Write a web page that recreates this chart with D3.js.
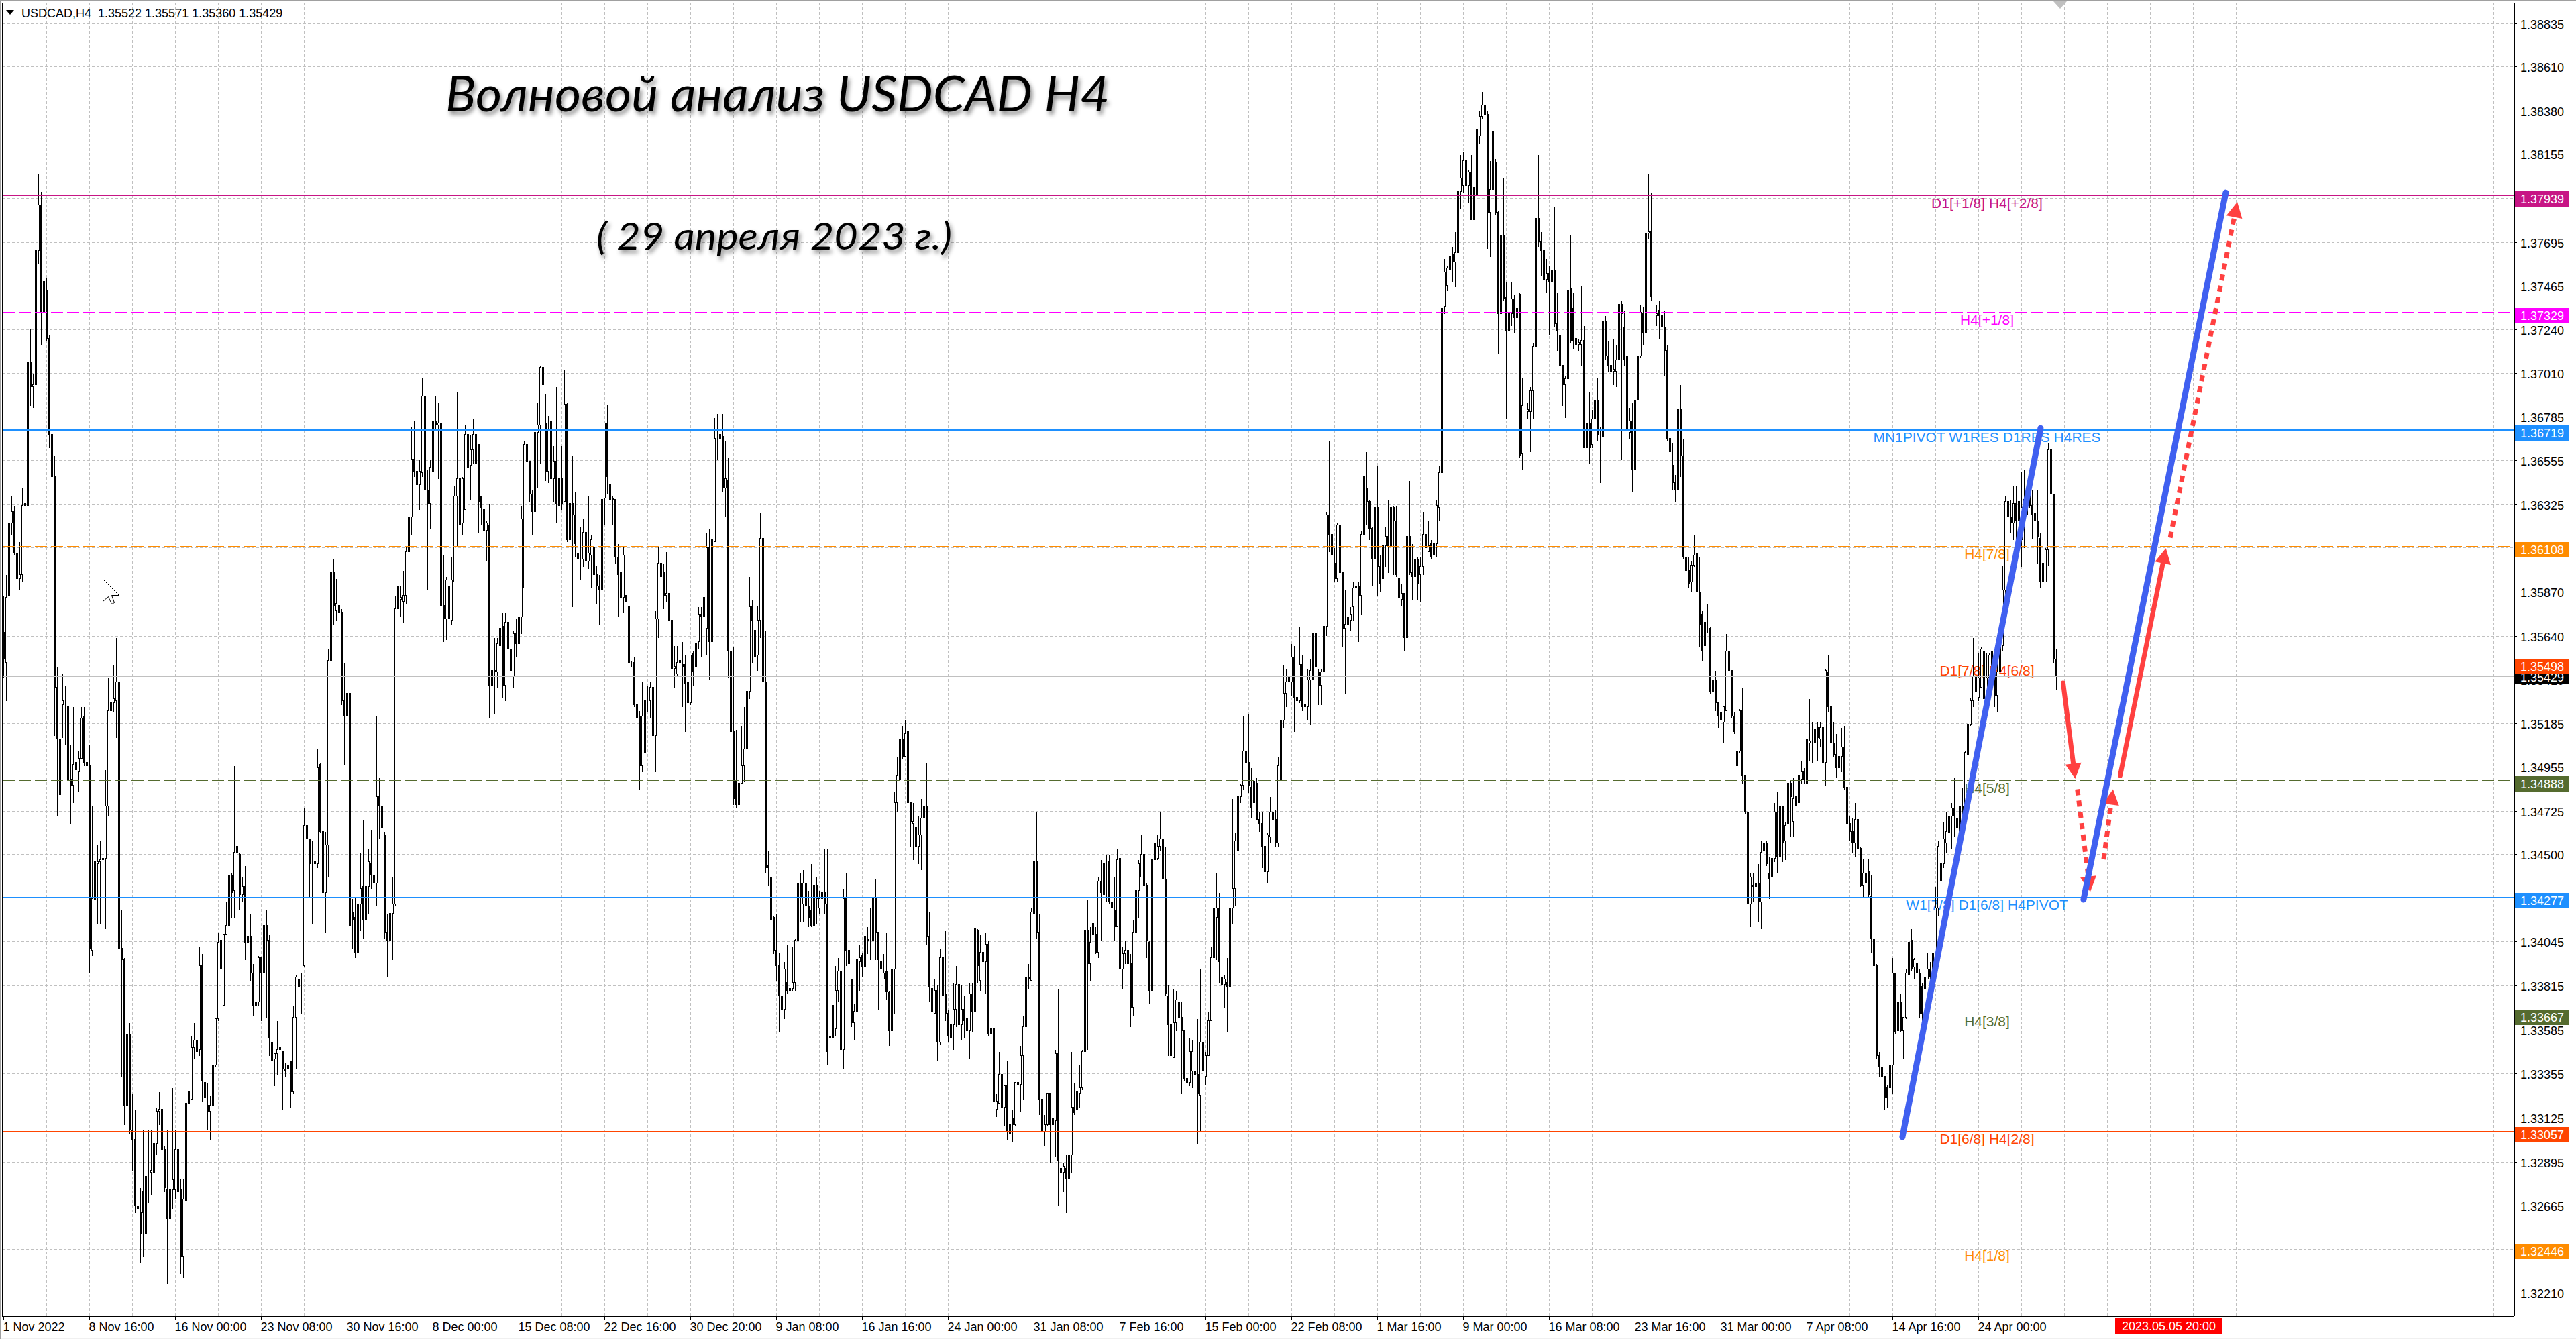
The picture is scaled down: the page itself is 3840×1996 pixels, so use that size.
<!DOCTYPE html>
<html><head><meta charset="utf-8">
<script src="https://cdnjs.cloudflare.com/ajax/libs/d3/7.8.5/d3.min.js"></script>
<style>
html,body{margin:0;padding:0;background:#fff;overflow:hidden}
svg{display:block}
text{font-family:"Liberation Sans",Arial,sans-serif}
</style></head><body>
<svg id="c" width="3840" height="1996"></svg>
<script>
// USDCAD H4 candles; prices in units of 0.0001
const opens=[
13566,13550,13585,13623,13629,13607,13594,13596,13632,13632,
13707,13694,13695,13765,13789,13733,13744,13719,13669,13647,
13537,13510,13528,13527,13527,13489,13486,13498,13493,13500,
13522,13498,13496,13400,13426,13445,13446,13447,13448,13475,
13525,13529,13530,13540,13401,13395,13319,13356,13306,13301,
13266,13263,13274,13252,13283,13284,13284,13299,13316,13317,
13296,13275,13275,13275,13275,13296,13275,13240,13269,13320,
13322,13349,13353,13348,13392,13331,13319,13316,13319,13340,
13364,13405,13371,13408,13413,13439,13431,13451,13450,13429,
13433,13404,13407,13388,13371,13373,13396,13388,13413,13405,
13352,13343,13346,13348,13347,13338,13338,13342,13326,13365,
13385,13381,13392,13465,13458,13445,13445,13445,13497,13462,
13430,13455,13551,13597,13577,13580,13576,13530,13522,13534,
13420,13417,13399,13424,13433,13416,13433,13445,13439,13435,
13480,13475,13460,13409,13405,13419,13424,13578,13583,13582,
13585,13608,13626,13656,
13650,13643,13649,13689,13640,13633,
13650,13676,13674,13675,13580,13573,13590,13572,13592,13637,
13646,13623,13630,13669,13653,13661,13669,13664,13637,13630,
13619,13622,13538,13546,13545,13559,13569,13538,13571,13557,
13543,13565,13560,13574,13589,13664,13655,13638,13629,13670,
13674,13704,13675,13650,13676,13646,13655,13632,13646,13634,
13685,13614,13633,13627,13607,13604,13604,13618,13603,13606,
13610,13596,13590,13588,13636,13675,13643,13636,13635,13605,
13597,13584,13585,13579,13550,13550,13528,13522,13496,13503,
13531,13530,13537,13512,13573,13602,13597,13585,13586,13572,
13547,13544,13550,13549,13549,13540,13529,13555,13548,13561,
13575,13574,13568,13610,13561,13613,13667,13667,13668,13641,
13645,13556,13514,13488,13476,13487,13496,13505,13535,13579,
13567,13554,13572,13615,13540,13444,13438,13417,13400,13392,
13376,13369,13383,13379,13380,13383,13405,13435,13424,13435,
13423,13421,13413,13434,13422,13427,13430,13424,13354,
13354,
13359,13379,13389,13348,13427,13400,13385,13362,13368,13394,
13397,13391,13406,13406,13405,13427,13409,13394,13385,13389,
13378,13358,13390,13477,13489,13510,13501,13514,13477,13466,
13464,13454,13460,13469,13475,13407,13380,13367,13379,13352,
13396,13377,13367,13354,13361,13369,13382,13361,13369,13364,
13358,13377,13368,13410,13384,13399,13394,13403,13356,13359,
13317,13320,13335,13318,13329,13304,13312,13309,13330,13330,
13345,13360,13386,13384,13419,13446,13409,13322,13305,13309,
13325,13309,13311,13346,13286,13284,13286,13281,13293,13318,
13317,13325,13328,13347,13410,13393,13414,13408,13399,13436,
13429,13446,13446,13425,13421,13412,13448,13390,13398,13400,
13393,13370,13409,13431,13438,13450,13434,13404,13379,13447,
13448,13454,13458,13437,13376,13361,13344,13362,13373,13365,
13358,13333,13331,13337,13337,13335,13324,13352,13334,13345,
13363,13396,13417,13422,13386,13382,13383,13381,13422,13432,
13452,13480,13486,13504,
13498,13485,13477,13487,13468,13466,
13454,13441,13459,13472,13468,13456,13489,13520,13534,13540,
13540,13553,13532,13530,13549,13527,13527,13541,13541,13565,
13545,13538,13545,13569,13627,13617,13602,13594,13622,13597,
13568,13570,13572,13579,13589,13590,13585,13617,13641,13634,
13620,13604,13631,13600,13594,13611,13616,13611,13631,13624,
13594,13583,13586,13563,13616,13597,13595,13604,13596,13600,
13617,13608,13612,13606,13612,13631,13649,13736,13747,13755,
13763,13759,13764,13796,13799,13812,13799,13806,13781,13794,
13825,13835,13841,13836,13785,13797,13811,13785,13732,13773,
13741,13723,13732,13740,13730,13742,13659,13684,13681,13681,
13692,13715,13782,13770,13765,13750,13753,13749,13755,13727,
13721,13705,13695,13698,13745,13735,13719,13716,13716,13718,
13662,13675,13664,13677,13687,13669,13668,13728,13710,13705,
13702,13702,13708,13737,13725,13710,13670,13676,13651,13687,
13710,13732,13722,13774,13775,13740,13731,13734,13731,
13725,
13713,13667,13653,13644,13640,13682,13658,13605,13598,13592,
13601,13607,13587,13575,13559,13571,13568,13535,13541,13529,
13524,13519,13525,13556,13546,13522,13496,13504,13525,13491,
13472,13424,13434,13433,13435,13425,13456,13456,13440,13438,
13448,13472,13449,13475,13457,13466,13487,13467,13480,13477,
13489,13493,13487,13508,13509,13508,13516,13510,13516,13498,
13545,13527,13508,13502,13495,13501,13506,13485,13466,13462,
13456,13468,13453,13434,13435,13441,13428,13406,13392,13345,
13339,13334,13328,13328,13340,13388,13358,13373,13358,13365,
13387,13405,13391,13393,13388,13381,13380,13385,13390,13388,
13398,13422,13436,13445,13456,13461,13470,13474,13464,13475,
13475,13475,13502,13518,13530,13543,13532,13537,13556,13532,
13542,13537,13546,13533,13545,13559,13588,13634,13626,13623,
13633,13634,13614,13635,13634,13640,13632,13628,13624,13615,
13602,13592,13609,13661,13638,13552];
const highs=[
13585,13596,13669,13637,13632,13617,13613,13641,13650,13714,
13724,13701,13775,13805,13796,13751,13751,13721,13675,13658,
13548,13519,13544,13538,13553,13507,13527,13503,13504,13527,
13527,13507,13507,13475,13449,13455,13457,13468,13494,13542,
13534,13549,13563,13571,13421,13396,13362,13362,13325,13317,
13276,13276,13306,13282,13306,13306,13310,13318,13326,13320,
13298,13306,13337,13328,13306,13307,13281,13281,13348,13358,
13355,13362,13360,13402,13398,13331,13331,13324,13348,13364,
13409,13409,13408,13425,13443,13440,13496,13457,13451,13438,
13444,13412,13419,13393,13378,13397,13396,13440,13421,13408,
13356,13346,13363,13360,13347,13341,13350,13342,13371,13387,
13399,13388,13474,13470,13458,13457,13468,13505,13498,13468,
13462,13557,13647,13604,13594,13589,13578,13550,13579,13568,
13427,13428,13432,13451,13468,13471,13453,13463,13451,13522,
13490,13496,13462,13419,13448,13438,13585,13606,13590,13598,
13611,13628,13673,13676,
13659,13656,13699,13699,13651,13656,
13689,13689,13686,13675,13606,13595,13606,13605,13642,13691,
13647,13647,13674,13674,13669,13677,13683,13664,13637,13643,
13624,13633,13565,13563,13563,13574,13576,13576,13584,13612,
13567,13573,13589,13632,13666,13674,13655,13640,13671,13686,
13705,13705,13690,13679,13678,13663,13694,13669,13663,13703,
13686,13654,13658,13639,13614,13621,13625,13637,13637,13617,
13620,13601,13596,13639,13675,13685,13658,13637,13635,13612,
13646,13611,13585,13579,13551,13553,13528,13525,13540,13540,
13538,13540,13540,13577,13611,13608,13602,13608,13603,13572,
13559,13559,13559,13561,13554,13581,13554,13556,13566,13579,
13579,13584,13618,13620,13638,13678,13680,13685,13680,13666,
13657,13558,13558,13515,13494,13517,13527,13538,13595,13583,
13570,13580,13628,13664,13567,13452,13444,13418,13419,13399,
13416,13394,13403,13410,13402,13406,13446,13440,13442,13441,
13431,13445,13441,13438,13431,13432,13453,13453,13443,
13387,
13392,13396,13391,13432,13440,13408,13385,13372,13418,13403,
13399,13414,13412,13422,13430,13437,13409,13402,13398,13409,
13379,13395,13483,13501,13518,13517,13520,13519,13477,13477,
13468,13470,13479,13485,13498,13420,13380,13385,13382,13401,
13418,13410,13369,13365,13383,13392,13414,13382,13376,13364,
13383,13383,13428,13411,13408,13408,13409,13405,13374,13362,
13325,13347,13342,13329,13342,13316,13317,13331,13353,13350,
13366,13389,13393,13422,13457,13472,13419,13324,13314,13325,
13325,13325,13348,13380,13293,13289,13293,13294,13347,13331,
13331,13340,13348,13422,13426,13412,13422,13412,13438,13447,
13475,13450,13450,13427,13438,13453,13469,13402,13405,13408,
13398,13416,13444,13447,13460,13450,13435,13405,13451,13463,
13460,13472,13459,13454,13382,13366,13380,13379,13374,13373,
13358,13341,13354,13353,13347,13364,13390,13364,13347,13368,
13402,13434,13440,13430,13408,13387,13396,13424,13479,13461,
13481,13487,13522,13537,
13523,13495,13495,13490,13472,13472,
13456,13461,13480,13477,13473,13501,13531,13549,13547,13547,
13560,13559,13560,13569,13554,13533,13547,13552,13581,13569,
13547,13547,13578,13629,13666,13630,13610,13623,13624,13597,
13588,13583,13579,13592,13606,13592,13619,13649,13660,13635,
13621,13632,13653,13606,13626,13621,13635,13642,13632,13632,
13596,13591,13586,13619,13645,13612,13612,13605,13605,13629,
13624,13624,13614,13614,13635,13653,13743,13761,13757,13773,
13767,13775,13797,13815,13817,13815,13807,13815,13798,13838,
13838,13848,13862,13838,13812,13847,13813,13786,13773,13803,
13749,13742,13749,13742,13750,13743,13699,13693,13686,13694,
13717,13786,13815,13775,13770,13761,13757,13769,13788,13743,
13722,13705,13700,13761,13773,13743,13725,13719,13747,13726,
13676,13691,13682,13691,13699,13673,13737,13731,13718,13709,
13719,13716,13744,13739,13734,13713,13683,13686,13691,13733,
13737,13736,13777,13805,13795,13745,13737,13739,13745,
13734,
13716,13669,13665,13648,13682,13695,13667,13618,13605,13603,
13617,13608,13605,13577,13572,13581,13569,13546,13546,13529,
13524,13527,13565,13559,13546,13524,13514,13526,13537,13491,
13475,13440,13440,13445,13445,13457,13468,13457,13449,13449,
13477,13483,13482,13475,13467,13490,13489,13490,13506,13493,
13499,13495,13519,13531,13519,13520,13519,13519,13524,13547,
13554,13528,13519,13513,13505,13516,13517,13486,13470,13469,
13477,13489,13454,13448,13448,13448,13439,13407,13393,13347,
13339,13334,13330,13350,13396,13388,13377,13377,13365,13390,
13420,13411,13396,13397,13390,13383,13390,13399,13394,13405,
13433,13457,13457,13467,13472,13475,13477,13490,13484,13484,
13485,13504,13527,13532,13563,13553,13555,13558,13567,13555,
13555,13562,13556,13556,13589,13601,13637,13648,13635,13642,
13642,13642,13650,13651,13640,13642,13640,13640,13640,13618,
13611,13610,13665,13668,13638,13557];
const lows=[
13542,13530,13585,13617,13606,13588,13588,13592,13623,13549,
13684,13683,13694,13758,13716,13721,13718,13662,13629,13512,
13470,13471,13511,13507,13466,13466,13477,13484,13483,13500,
13496,13481,13388,13397,13423,13414,13414,13425,13411,13470,
13515,13524,13511,13369,13334,13309,13315,13304,13285,13263,
13246,13237,13240,13252,13268,13272,13263,13293,13309,13293,
13274,13226,13253,13265,13270,13272,13231,13229,13268,13317,
13322,13343,13306,13345,13321,13313,13306,13301,13311,13339,
13363,13389,13371,13408,13408,13417,13417,13438,13421,13425,
13395,13386,13384,13366,13358,13371,13363,13387,13365,13345,
13338,13329,13335,13328,13317,13334,13329,13318,13325,13338,
13363,13367,13391,13435,13428,13414,13423,13443,13461,13425,
13409,13438,13548,13570,13572,13563,13528,13497,13489,13412,
13401,13396,13396,13410,13406,13405,13419,13432,13419,13423,
13458,13455,13406,13386,13404,13395,13423,13572,13574,13571,
13581,13603,13617,13647,
13640,13630,13647,13633,13588,13620,
13645,13672,13646,13572,13561,13562,13569,13570,13592,13611,
13602,13617,13630,13650,13635,13654,13632,13618,13622,13613,
13603,13521,13523,13523,13537,13559,13532,13530,13548,13518,
13537,13553,13556,13565,13589,13647,13634,13617,13617,13641,
13654,13681,13645,13644,13629,13634,13623,13629,13630,13634,
13613,13604,13579,13605,13589,13593,13600,13600,13599,13589,
13596,13581,13570,13588,13622,13638,13635,13622,13602,13574,
13563,13576,13582,13548,13548,13527,13506,13484,13493,13503,
13524,13521,13485,13493,13563,13586,13578,13582,13570,13539,
13537,13543,13543,13527,13514,13518,13528,13538,13537,13557,
13553,13564,13554,13541,13523,13613,13656,13657,13639,13626,
13542,13514,13476,13474,13470,13487,13488,13488,13531,13550,
13548,13546,13563,13539,13440,13434,13415,13398,13384,13357,
13359,13364,13377,13379,13379,13379,13382,13415,13415,13411,
13412,13412,13405,13414,13419,13421,13419,13340,13346,
13346,
13355,13373,13322,13338,13392,13386,13360,13353,13368,13379,
13386,13390,13398,13395,13405,13395,13369,13367,13385,13374,
13350,13356,13367,13472,13483,13500,13501,13476,13454,13447,
13448,13445,13442,13460,13403,13373,13356,13367,13342,13351,
13367,13363,13352,13347,13348,13360,13354,13353,13354,13348,
13343,13357,13341,13383,13379,13385,13377,13355,13303,13319,
13313,13320,13316,13308,13301,13301,13300,13308,13324,13316,
13322,13357,13380,13384,13408,13406,13314,13299,13298,13308,
13289,13297,13292,13267,13263,13274,13263,13271,13284,13314,
13310,13318,13327,13347,13348,13384,13401,13398,13396,13405,
13425,13425,13424,13401,13405,13412,13382,13380,13393,13388,
13360,13366,13409,13417,13438,13432,13396,13372,13372,13447,
13447,13452,13413,13376,13345,13338,13344,13358,13363,13325,
13332,13325,13329,13328,13335,13299,13305,13335,13330,13345,
13363,13390,13395,13383,13379,13370,13357,13380,13414,13423,
13452,13477,13484,13489,
13482,13469,13472,13468,13462,13443,
13433,13435,13456,13460,13454,13454,13488,13516,13527,13531,
13533,13514,13523,13529,13525,13518,13520,13518,13516,13540,
13528,13528,13542,13564,13608,13599,13592,13592,13587,13558,
13534,13564,13567,13572,13578,13561,13575,13617,13622,13614,
13590,13585,13585,13587,13583,13600,13597,13600,13596,13595,
13577,13580,13556,13561,13596,13583,13588,13583,13582,13596,
13600,13608,13604,13600,13605,13624,13645,13732,13744,13752,
13749,13746,13745,13787,13795,13794,13790,13781,13753,13790,
13821,13834,13833,13766,13762,13797,13784,13711,13715,13739,
13677,13714,13726,13722,13702,13657,13651,13668,13677,13660,
13677,13709,13767,13752,13740,13743,13721,13739,13725,13713,
13703,13684,13678,13694,13717,13714,13686,13713,13705,13662,
13651,13654,13662,13671,13666,13644,13667,13708,13702,13698,
13695,13694,13701,13656,13705,13670,13667,13639,13631,13685,
13709,13716,13721,13771,13739,13739,13726,13719,13718,
13700,
13666,13650,13640,13634,13632,13647,13604,13591,13589,13587,
13600,13572,13558,13551,13558,13566,13534,13529,13525,13516,
13518,13508,13525,13530,13521,13513,13488,13503,13487,13471,
13423,13412,13425,13427,13415,13411,13406,13444,13427,13426,
13446,13440,13428,13446,13447,13465,13459,13459,13464,13467,
13487,13487,13487,13499,13498,13499,13499,13506,13489,13486,
13524,13503,13501,13490,13482,13493,13484,13462,13457,13451,
13449,13448,13433,13428,13433,13428,13399,13386,13343,13334,
13333,13317,13318,13303,13325,13356,13357,13357,13343,13364,
13385,13389,13385,13380,13365,13359,13367,13385,13385,13386,
13396,13418,13427,13443,13451,13456,13453,13459,13463,13453,
13459,13474,13501,13517,13527,13533,13530,13537,13530,13530,
13531,13533,13527,13524,13543,13556,13585,13625,13618,13614,
13614,13618,13600,13610,13619,13631,13615,13621,13602,13589,
13589,13592,13601,13633,13550,13536];
const closes=[
13552,13584,13623,13629,13607,13594,13596,13632,13633,13707,
13694,13695,13765,13789,13733,13749,13719,13669,13647,13537,
13510,13481,13530,13527,13489,13486,13497,13494,13500,13521,
13498,13496,13401,13427,13446,13446,13447,13448,13475,13525,
13529,13531,13540,13401,13395,13319,13356,13306,13301,13267,
13265,13252,13263,13282,13283,13285,13299,13316,13317,13296,
13276,13260,13260,13280,13296,13274,13240,13270,13320,13326,
13349,13353,13347,13392,13332,13323,13316,13319,13340,13364,
13404,13390,13408,13413,13439,13430,13451,13454,13429,13433,
13404,13407,13388,13371,13373,13396,13388,13413,13405,13354,
13342,13346,13348,13349,13338,13337,13340,13326,13365,13386,
13381,13381,13465,13458,13445,13445,13446,13495,13462,13430,
13455,13551,13597,13580,13581,13576,13530,13522,13534,13413,
13416,13399,13424,13432,13416,13433,13446,13439,13435,13480,
13475,13464,13409,13405,13419,13424,13578,13590,13584,13585,
13608,13626,13656,13650,
13643,13650,13689,13640,13633,13652,
13676,13674,13675,13580,13573,13593,13573,13593,13637,13646,
13622,13646,13669,13652,13661,13669,13654,13634,13631,13619,
13623,13538,13546,13545,13560,13568,13538,13571,13557,13546,
13565,13560,13574,13625,13664,13655,13638,13629,13670,13674,
13704,13695,13650,13672,13646,13655,13633,13646,13633,13685,
13614,13633,13627,13612,13604,13604,13618,13603,13607,13614,
13596,13590,13588,13635,13675,13647,13635,13635,13605,13596,
13584,13606,13582,13550,13550,13528,13521,13496,13522,13530,
13531,13537,13512,13573,13602,13595,13585,13586,13572,13547,
13548,13550,13551,13548,13539,13529,13554,13545,13560,13575,
13574,13584,13610,13561,13614,13667,13667,13669,13641,13646,
13556,13514,13479,13476,13487,13496,13505,13535,13579,13572,
13553,13572,13615,13540,13443,13443,13416,13400,13392,13376,
13369,13390,13379,13380,13383,13405,13435,13428,13435,13423,
13417,13413,13434,13427,13427,13430,13424,13347,13355,
13371,
13379,13389,13348,13427,13400,13393,13362,13368,13395,13396,
13391,13407,13405,13406,13427,13409,13395,13390,13388,13378,
13358,13390,13477,13491,13510,13501,13513,13477,13467,13467,
13454,13460,13469,13475,13407,13381,13368,13379,13352,13396,
13376,13367,13355,13361,13369,13382,13361,13369,13363,13358,
13377,13368,13411,13392,13399,13394,13403,13356,13359,13321,
13321,13335,13318,13329,13305,13309,13309,13331,13331,13345,
13360,13386,13385,13420,13446,13409,13322,13305,13309,13325,
13309,13312,13346,13290,13284,13287,13281,13293,13318,13315,
13326,13328,13347,13410,13393,13404,13408,13399,13436,13430,
13445,13446,13425,13422,13412,13447,13390,13398,13400,13393,
13370,13409,13431,13445,13450,13434,13405,13379,13447,13456,
13454,13458,13437,13377,13361,13345,13362,13374,13365,13358,
13333,13331,13347,13347,13335,13325,13352,13337,13345,13363,
13396,13422,13422,13394,13382,13385,13381,13422,13432,13457,
13480,13486,13504,13498,
13486,13474,13488,13468,13466,13454,
13441,13460,13472,13468,13456,13496,13520,13534,13540,13543,
13553,13532,13530,13549,13527,13528,13541,13546,13565,13548,
13538,13545,13569,13627,13617,13606,13594,13622,13597,13568,
13570,13574,13575,13589,13590,13585,13617,13647,13634,13620,
13604,13631,13600,13591,13611,13616,13611,13631,13624,13596,
13584,13586,13563,13616,13597,13595,13604,13591,13600,13617,
13610,13611,13605,13612,13632,13649,13735,13754,13756,13762,
13759,13764,13796,13803,13812,13799,13806,13781,13798,13828,
13835,13841,13836,13785,13797,13827,13785,13732,13773,13740,
13723,13732,13740,13730,13735,13658,13684,13684,13682,13692,
13715,13782,13770,13765,13750,13753,13749,13755,13727,13723,
13705,13695,13698,13744,13718,13718,13716,13717,13718,13662,
13675,13662,13677,13687,13669,13669,13728,13710,13705,13702,
13703,13708,13737,13732,13708,13671,13676,13651,13687,13710,
13733,13722,13774,13775,13741,13740,13732,13731,13725,
13713,
13667,13660,13644,13640,13682,13658,13605,13598,13591,13601,
13606,13587,13570,13556,13571,13571,13535,13541,13529,13522,
13520,13527,13556,13546,13522,13514,13504,13525,13491,13472,
13424,13438,13433,13435,13425,13451,13452,13445,13437,13448,
13472,13449,13475,13456,13465,13487,13480,13479,13475,13491,
13493,13489,13510,13509,13509,13515,13511,13516,13498,13546,
13527,13508,13502,13495,13501,13506,13485,13466,13462,13456,
13468,13453,13434,13440,13440,13429,13406,13392,13345,13339,
13334,13323,13323,13340,13388,13357,13373,13358,13365,13388,
13404,13390,13395,13388,13367,13367,13386,13390,13386,13398,
13422,13454,13445,13458,13462,13470,13474,13470,13469,13461,
13469,13503,13518,13530,13543,13535,13542,13557,13531,13542,
13554,13556,13533,13545,13559,13588,13634,13626,13623,13633,
13624,13624,13631,13627,13627,13632,13627,13624,13616,13592,
13592,13609,13661,13638,13552,13543];

const yTicks=[1.38835,1.38610,1.38380,1.38155,1.37925,1.37695,1.37465,1.37240,1.37010,1.36785,1.36555,1.36325,1.36100,1.35870,1.35640,1.35410,1.35185,1.34955,1.34725,1.34500,1.34275,1.34045,1.33815,1.33585,1.33355,1.33125,1.32895,1.32665,1.32440,1.32210];
const xLabels=["1 Nov 2022","8 Nov 16:00","16 Nov 00:00","23 Nov 08:00","30 Nov 16:00","8 Dec 00:00","15 Dec 08:00","22 Dec 16:00","30 Dec 20:00","9 Jan 08:00","16 Jan 16:00","24 Jan 00:00","31 Jan 08:00","7 Feb 16:00","15 Feb 00:00","22 Feb 08:00","1 Mar 16:00","9 Mar 00:00","16 Mar 08:00","23 Mar 16:00","31 Mar 00:00","7 Apr 08:00","14 Apr 16:00","24 Apr 00:00"];

const levelPrices=[1.37939,1.37329,1.36719,1.36108,1.35498,1.34888,1.34277,1.33667,1.33057,1.32446];
const levelNames=["D1[+1/8] H4[+2/8]","H4[+1/8]","MN1PIVOT W1RES D1RES H4RES","H4[7/8]","D1[7/8] H4[6/8]","H4[5/8]","W1[7/8] D1[6/8] H4PIVOT","H4[3/8]","D1[6/8] H4[2/8]","H4[1/8]"];
const levelColors=["#C71585","#FF00FF","#1E90FF","#FF8C00","#FF4500","#556B2F","#1E90FF","#556B2F","#FF4500","#FF8C00"];
const levelDashed=[false,true,false,true,false,true,false,true,false,true];
const levelWidths=[1,1,2,1,1,1,1,1,1,1];

const lastPrice=1.35429;
const headerText="USDCAD,H4  1.35522 1.35571 1.35360 1.35429";
const crosshairBar=807;
const crosshairLabel="2023.05.05 20:00";

// wave forecast drawings: [bar index, price] ends
const trendBlue=[[[707.6,1.33024],[759.1,1.36724]],[[775.1,1.34263],[828.1,1.37953]]];
const arrowsSolid=[[[767.5,1.35394],[772,1.34893]],[[788.75,1.34911],[805.8,1.36097]]];
const arrowsDotted=[[[772.8,1.34839],[777.6,1.34303]],[[782.6,1.34473],[786.1,1.34839]],[[807.4,1.36152],[832.4,1.37904]]];

[opens,highs,lows,closes].forEach(a=>{if(a.length!==766)throw new Error("len "+[opens.length,highs.length,lows.length,closes.length])});

const W=3840,H=1996,L=4,R=3747,T=4,B=1962;
const x=d3.scaleLinear().domain([0,928]).range([5.5,5.5+4*928]);
const y=d3.scaleLinear().domain([1.38944,1.32089]).range([T,B]);
const py=v=>Math.round(y(v/10000)-0.5)+0.5;
const svg=d3.select("#c");

svg.append("rect").attr("width",W).attr("height",H).attr("fill","#fff");
svg.append("rect").attr("width",W).attr("height",2).attr("fill","#a0a0a0");
svg.append("rect").attr("y",1994).attr("width",W).attr("height",2).attr("fill","#f0f0f0");
svg.append("rect").attr("width",1).attr("height",H).attr("fill","#a0a0a0");

// grid
const grid=svg.append("g").attr("stroke","#c0c0c0").attr("stroke-width",1).attr("stroke-dasharray","4 3").attr("shape-rendering","crispEdges");
grid.selectAll("line.h").data(yTicks).join("line").attr("x1",L).attr("x2",R)
  .attr("y1",d=>Math.round(y(d))+.5).attr("y2",d=>Math.round(y(d))+.5);
grid.selectAll("line.v").data(d3.range(1,59).map(k=>k*16)).join("line")
  .attr("x1",d=>x(d)).attr("x2",d=>x(d)).attr("y1",T).attr("y2",B);

// level captions under the drawings
svg.append("g").selectAll("text").data(levelPrices).join("text")
  .attr("x",2962).attr("y",d=>y(d)+19).attr("text-anchor","middle")
  .attr("font-size",21).attr("fill",(d,i)=>levelColors[i]).text((d,i)=>levelNames[i]);

// candles
const bars=d3.range(opens.length);
const cg=svg.append("g").attr("shape-rendering","crispEdges");
cg.selectAll("line").data(bars).join("line")
  .attr("x1",x).attr("x2",x).attr("y1",i=>py(highs[i])).attr("y2",i=>py(lows[i]))
  .attr("stroke","#000").attr("stroke-width",1);
cg.selectAll("rect").data(bars).join("rect")
  .attr("x",i=>x(i)-1).attr("width",2)
  .attr("y",i=>Math.min(py(opens[i]),py(closes[i])))
  .attr("height",i=>Math.abs(py(opens[i])-py(closes[i])))
  .attr("fill",i=>closes[i]<opens[i]?"#000":"#fff").attr("stroke","#000").attr("stroke-width",1);

// price line and levels
svg.append("line").attr("x1",L).attr("x2",R).attr("y1",Math.round(y(lastPrice))+.5).attr("y2",Math.round(y(lastPrice))+.5)
  .attr("stroke","#c0c0c0").attr("stroke-width",1).attr("shape-rendering","crispEdges");
svg.append("g").attr("shape-rendering","crispEdges").selectAll("line").data(levelPrices).join("line")
  .attr("x1",L).attr("x2",R).attr("y1",d=>Math.round(y(d))+.5).attr("y2",d=>Math.round(y(d))+.5)
  .attr("stroke",(d,i)=>levelColors[i]).attr("stroke-width",(d,i)=>levelWidths[i])
  .attr("stroke-dasharray",(d,i)=>levelDashed[i]?"18 6":null);

// crosshair
svg.append("line").attr("x1",x(crosshairBar)).attr("x2",x(crosshairBar)).attr("y1",T).attr("y2",B)
  .attr("stroke","#ff0000").attr("stroke-width",1).attr("shape-rendering","crispEdges");

// red forecast arrows
const RED="#ff4040",BLUE="#4060f0";
function arrow(seg,dash){
  const [a,b]=seg.map(p=>[x(p[0]),y(p[1])]);
  const ang=Math.atan2(b[1]-a[1],b[0]-a[0]),len=23,hw=12;
  const bx=b[0]-len*Math.cos(ang),by=b[1]-len*Math.sin(ang);
  svg.append("line").attr("x1",a[0]).attr("y1",a[1]).attr("x2",bx).attr("y2",by)
    .attr("stroke",RED).attr("stroke-width",7).attr("stroke-linecap",dash?"butt":"round")
    .attr("stroke-dasharray",dash?"9 8":null);
  svg.append("path").attr("fill",RED).attr("d",d3.line()([
    b,[bx-hw*Math.sin(ang),by+hw*Math.cos(ang)],[bx+hw*Math.sin(ang),by-hw*Math.cos(ang)]])+"Z");
}
arrowsSolid.forEach(s=>arrow(s,false));
arrowsDotted.forEach(s=>arrow(s,true));
svg.append("g").selectAll("line").data(trendBlue).join("line")
  .attr("x1",d=>x(d[0][0])).attr("y1",d=>y(d[0][1])).attr("x2",d=>x(d[1][0])).attr("y2",d=>y(d[1][1]))
  .attr("stroke",BLUE).attr("stroke-width",9).attr("stroke-linecap","round");

// frame
const frame=svg.append("g").attr("stroke","#000").attr("stroke-width",1).attr("shape-rendering","crispEdges");
frame.append("line").attr("x1",3.5).attr("x2",3.5).attr("y1",T).attr("y2",B);
frame.append("line").attr("x1",3.5).attr("x2",R+.5).attr("y1",T+.5).attr("y2",T+.5);

// axes
const yAxis=d3.axisRight(y).tickValues(yTicks).tickFormat(d3.format(".5f")).tickSize(4).tickPadding(6).offset(0.5);
const gy=svg.append("g").attr("transform",`translate(${R+.5},0)`).call(yAxis);
gy.selectAll("text").attr("font-size",18).attr("font-family","Liberation Sans").attr("fill","#000").attr("dy",null).attr("y",7.5).attr("x",9.5);
gy.selectAll("line").attr("stroke","#000").attr("shape-rendering","crispEdges");
gy.select(".domain").attr("stroke","#000").attr("shape-rendering","crispEdges").attr("d",`M0.5,${T}V${B}`);

const xAxis=d3.axisBottom(x).tickValues(xLabels.map((d,i)=>i*32)).tickFormat((d,i)=>xLabels[i]).tickSize(4).offset(0);
const gx=svg.append("g").attr("transform",`translate(0,${B+.5})`).call(xAxis);
gx.selectAll("text").attr("font-size",18).attr("font-family","Liberation Sans").attr("fill","#000")
  .attr("text-anchor","start").attr("dy",null).attr("y",21).attr("x",-1);
gx.selectAll("line").attr("stroke","#000").attr("shape-rendering","crispEdges");
gx.select(".domain").attr("stroke","#000").attr("shape-rendering","crispEdges").attr("d",`M3,0H${R+1}`);

// price labels
const lp=svg.append("g");
lp.append("rect").attr("x",3749).attr("y",y(lastPrice)-6).attr("width",80).attr("height",18).attr("fill","#000");
lp.append("text").attr("x",3757).attr("y",y(lastPrice)+8).attr("font-size",18).attr("fill","#fff").text(d3.format(".5f")(lastPrice));
const lab=svg.append("g").selectAll("g").data(levelPrices).join("g");
lab.append("rect").attr("x",3749).attr("y",d=>Math.round(y(d))-6).attr("width",80).attr("height",23).attr("fill",(d,i)=>levelColors[i]);
lab.append("text").attr("x",3757).attr("y",d=>Math.round(y(d))+12).attr("font-size",18).attr("fill","#fff").text(d=>d3.format(".5f")(d));

// crosshair time label
svg.append("rect").attr("x",3153).attr("y",1965).attr("width",159).attr("height",23).attr("fill","#ff0000");
svg.append("text").attr("x",x(crosshairBar)-.5).attr("y",1983).attr("text-anchor","middle").attr("font-size",18).attr("fill","#fff").text(crosshairLabel);

// header
svg.append("path").attr("d","M9,15H21L15,22Z").attr("fill","#000");
svg.append("text").attr("x",32).attr("y",26).attr("font-size",18).attr("xml:space","preserve").style("white-space","pre").attr("fill","#000").text(headerText);
svg.append("path").attr("d","M3061,2H3081L3071,13Z").attr("fill","#c0c0c0");

// mouse pointer
svg.append("path").attr("d","M153.5,863.5L177.5,887.5L166.5,887.5L170.5,898.5L166.5,900.5L161.5,889.5L153.5,896.5Z")
  .attr("fill","#fff").attr("stroke","#000").attr("stroke-width",1);

// captions
const shadow="drop-shadow(3px 5px 3px rgba(0,0,0,.45))";
svg.append("text").attr("x",664).attr("y",166).attr("font-size",74).style("font-family","Lato,'Noto Sans',sans-serif").style("font-style","italic")
  .attr("textLength",990).attr("lengthAdjust","spacingAndGlyphs").attr("fill","#000").style("filter",shadow).text("Волновой анализ USDCAD H4");
svg.append("text").attr("x",889).attr("y",372).attr("font-size",56).style("font-family","Lato,'Noto Sans',sans-serif").style("font-style","italic")
  .attr("textLength",530).attr("lengthAdjust","spacingAndGlyphs").attr("fill","#000").style("filter",shadow).text("( 29 апреля 2023 г.)");
</script>
</body></html>
